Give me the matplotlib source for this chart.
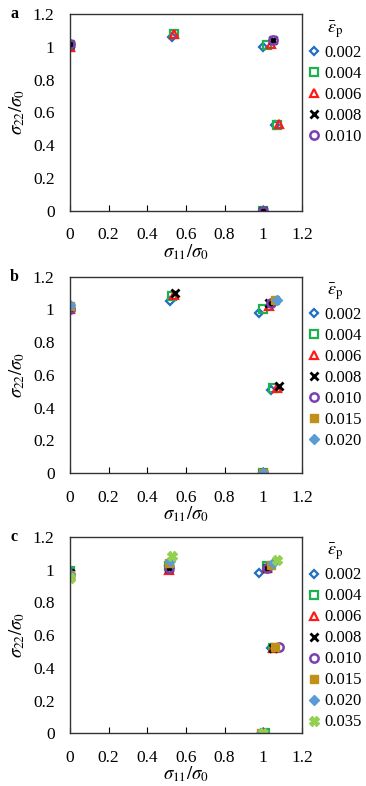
import numpy as np
import matplotlib
matplotlib.use("Agg")
import matplotlib.pyplot as plt

plt.rcParams["font.family"] = ["Liberation Serif", "DejaVu Serif"]
plt.rcParams["mathtext.fontset"] = "stix"

nan = np.nan

# strain levels
labels = ["0.002", "0.004", "0.006", "0.008", "0.010", "0.015", "0.020", "0.035"]

# panel a: (sigma11, sigma22) per strain level, nan = no point for that load path
a_x = {
    "0.002": [0.0, 0.53, 1.00, 1.06, 1.0],
    "0.004": [0.0, 0.54, 1.02, 1.07, 1.0],
    "0.006": [0.0, 0.54, 1.04, 1.08, 1.0],
    "0.008": [0.0, nan, 1.05, nan, 1.0],
    "0.010": [0.0, nan, 1.05, nan, 1.0],
}
a_y = {
    "0.002": [1.00, 1.06, 1.00, 0.52, 0.0],
    "0.004": [1.00, 1.08, 1.01, 0.52, 0.0],
    "0.006": [1.00, 1.08, 1.02, 0.53, 0.0],
    "0.008": [1.02, nan, 1.04, nan, 0.0],
    "0.010": [1.02, nan, 1.04, nan, 0.0],
}

# panel b
b_x = {
    "0.002": [0.0, 0.52, 0.98, 1.04, 1.0],
    "0.004": [0.0, 0.53, 1.00, 1.05, 1.0],
    "0.006": [0.0, 0.54, 1.03, 1.07, 1.0],
    "0.008": [0.0, 0.545, 1.03, 1.08, 1.0],
    "0.010": [0.0, nan, 1.04, nan, 1.0],
    "0.015": [0.0, nan, 1.06, nan, 1.0],
    "0.020": [0.0, nan, 1.07, nan, 1.0],
}
b_y = {
    "0.002": [1.01, 1.05, 0.98, 0.51, 0.0],
    "0.004": [1.01, 1.08, 1.00, 0.52, 0.0],
    "0.006": [1.00, 1.09, 1.02, 0.52, 0.0],
    "0.008": [1.01, 1.10, 1.04, 0.53, 0.0],
    "0.010": [1.00, nan, 1.04, nan, 0.0],
    "0.015": [1.02, nan, 1.06, nan, 0.0],
    "0.020": [1.03, nan, 1.06, nan, 0.0],
}

# panel c
c_x = {
    "0.002": [0.0, 0.51, 0.98, 1.04, 1.00],
    "0.004": [0.0, 0.51, 1.02, 1.05, 1.01],
    "0.006": [0.0, 0.51, 1.02, 1.05, 1.00],
    "0.008": [0.0, 0.51, 1.02, 1.05, 1.00],
    "0.010": [0.0, 0.51, 1.02, 1.08, 1.00],
    "0.015": [0.0, 0.51, 1.04, 1.06, 0.99],
    "0.020": [0.0, 0.52, 1.05, nan, 0.99],
    "0.035": [0.0, 0.53, 1.07, nan, 1.00],
}
c_y = {
    "0.002": [0.99, 1.02, 0.98, 0.52, 0.0],
    "0.004": [0.99, 1.02, 1.02, 0.52, 0.0],
    "0.006": [0.97, 1.00, 1.01, 0.52, 0.0],
    "0.008": [0.98, 1.01, 1.01, 0.52, 0.0],
    "0.010": [0.97, 1.01, 1.01, 0.53, 0.0],
    "0.015": [0.97, 1.04, 1.03, 0.53, 0.0],
    "0.020": [0.97, 1.05, 1.04, nan, 0.0],
    "0.035": [0.95, 1.08, 1.06, nan, 0.0],
}

styles = {
    "0.002": dict(marker="D", mfc="none", mec="#1f6fc4", ms=4.5, mew=1.6),
    "0.004": dict(marker="s", mfc="none", mec="#1db24f", ms=6, mew=1.6),
    "0.006": dict(marker="^", mfc="none", mec="#ff1a1a", ms=6, mew=1.6),
    "0.008": dict(marker="x", mfc="none", mec="black", ms=5.5, mew=2.0),
    "0.010": dict(marker="o", mfc="none", mec="#7a3fb0", ms=6, mew=1.8),
    "0.015": dict(marker="s", mfc="#c09018", mec="#c09018", ms=6, mew=1),
    "0.020": dict(marker="D", mfc="#5b9bd5", mec="#5b9bd5", ms=5, mew=1),
    "0.035": dict(marker="X", mfc="#92d050", mec="#92d050", ms=7, mew=1),
}

fig = plt.figure(figsize=(3.66, 7.86), dpi=100)

panels = [
    ("a", a_x, a_y, 0.732),
    ("b", b_x, b_y, 0.398),
    ("c", c_x, c_y, 0.067),
]

for tag, xs, ys, bottom in panels:
    ax = fig.add_axes([0.191, bottom, 0.634, 0.25])
    for lab in xs:
        ax.plot(xs[lab], ys[lab], ls="none", label=lab, **styles[lab])
    ax.set_xlim(0, 1.2)
    ax.set_ylim(0, 1.2)
    ticks = [0, 0.2, 0.4, 0.6, 0.8, 1.0, 1.2]
    ax.set_xticks(ticks)
    ax.set_yticks(ticks)
    ax.set_xticklabels(["0", "0.2", "0.4", "0.6", "0.8", "1", "1.2"])
    ax.set_yticklabels(["0", "0.2", "0.4", "0.6", "0.8", "1", "1.2"])
    ax.tick_params(axis="x", direction="in", length=4, pad=12, labelsize=12.5)
    ax.tick_params(axis="y", length=0, pad=11, labelsize=12.5)
    for sp in ax.spines.values():
        sp.set_linewidth(1.0)
        sp.set_color("#333333")
    ax.set_xlabel(r"$\sigma_{11}/\sigma_0$", fontsize=13.5, labelpad=-1)
    ax.set_ylabel(r"$\sigma_{22}/\sigma_0$", fontsize=13.5, labelpad=4)
    leg = ax.legend(loc="upper left", bbox_to_anchor=(0.98, 1.035), frameon=False,
                    title=r"$\bar{\varepsilon}_{\rm p}$", title_fontsize=13,
                    fontsize=12, handlelength=0.6, handletextpad=0.3,
                    labelspacing=0.3, borderaxespad=0.3)
    ax.text(-0.24, 1.0, tag, transform=ax.transAxes, fontweight="bold",
            fontsize=11.5, va="center", ha="center")

fig.savefig("out.png", dpi=100)
